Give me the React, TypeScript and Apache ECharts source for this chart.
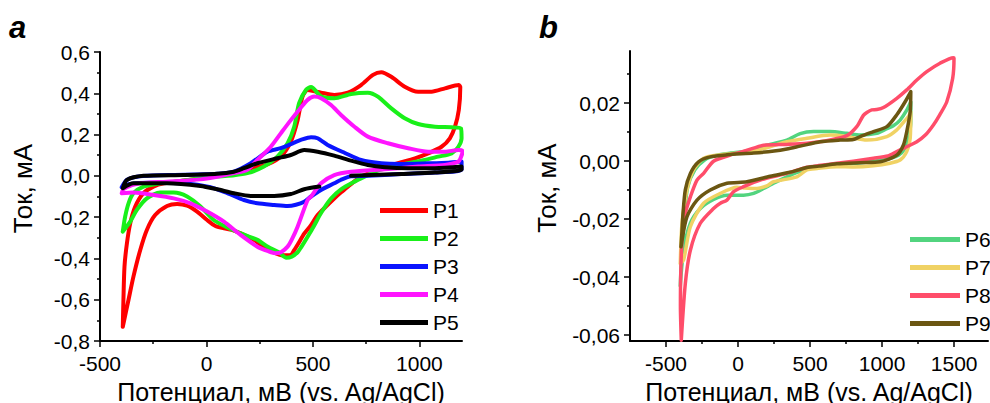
import React, { useEffect, useRef } from 'react';
import * as echarts from 'echarts';

// ---------- Panel a data (mV, mA) ----------
const namesA = ['P1', 'P2', 'P3', 'P4', 'P5'];
const colorsA = ['#ff0000', '#19f019', '#0a14ff', '#ff14ff', '#000000'];

const p1: number[][] = [
  [-393, -0.731], [-390, -0.6], [-385, -0.44], [-374, -0.33], [-358, -0.23], [-335, -0.15], [-296, -0.084],
  [-249, -0.052], [-200, -0.036], [-100, -0.022], [0, -0.008], [100, 0.008], [160, 0.022], [220, 0.04],
  [286, 0.055], [349, 0.093], [396, 0.166], [428, 0.27], [451, 0.384], [475, 0.416], [538, 0.403],
  [600, 0.392], [664, 0.403], [726, 0.44], [782, 0.489], [821, 0.502], [868, 0.48], [931, 0.432],
  [994, 0.408], [1057, 0.408], [1120, 0.424], [1185, 0.44], [1192, 0.43], [1185, 0.319], [1167, 0.238],
  [1143, 0.182], [1104, 0.141], [1041, 0.109], [979, 0.085], [915, 0.066], [852, 0.048], [805, 0.035],
  [760, 0.012], [726, -0.004], [690, -0.03], [664, -0.052], [632, -0.08], [600, -0.11], [560, -0.15],
  [522, -0.19], [490, -0.24], [459, -0.28], [430, -0.33], [412, -0.36], [396, -0.383], [360, -0.385],
  [318, -0.372], [270, -0.345], [223, -0.31], [176, -0.285], [129, -0.265], [82, -0.254], [42, -0.243],
  [3, -0.214], [-44, -0.173], [-91, -0.144], [-138, -0.136], [-185, -0.146], [-241, -0.19], [-280, -0.262],
  [-311, -0.359], [-343, -0.488], [-366, -0.6], [-393, -0.731],
];
const p2: number[][] = [
  [-393, -0.27], [-382, -0.198], [-366, -0.133], [-343, -0.084], [-296, -0.052], [-230, -0.038], [-150, -0.028],
  [-50, -0.015], [50, -0.003], [130, 0.003], [192, 0.013], [270, 0.045], [333, 0.093], [381, 0.158],
  [412, 0.238], [435, 0.352], [467, 0.416], [491, 0.43], [538, 0.385], [600, 0.376], [679, 0.397],
  [758, 0.403], [805, 0.384], [868, 0.327], [931, 0.279], [994, 0.251], [1073, 0.238], [1151, 0.235],
  [1195, 0.23], [1198, 0.182], [1183, 0.141], [1151, 0.109], [1088, 0.093], [1025, 0.077], [947, 0.061],
  [880, 0.045], [837, 0.035], [790, 0.02], [758, 0.004], [695, -0.028], [632, -0.065], [585, -0.11],
  [538, -0.18], [506, -0.24], [475, -0.295], [445, -0.345], [428, -0.37], [400, -0.392], [375, -0.397],
  [340, -0.37], [290, -0.345], [239, -0.31], [176, -0.285], [98, -0.25], [34, -0.214], [-28, -0.149],
  [-91, -0.1], [-154, -0.081], [-217, -0.081], [-280, -0.109], [-327, -0.165], [-358, -0.222], [-393, -0.27],
];
const p3: number[][] = [
  [-398, -0.055], [-374, -0.02], [-327, -0.004], [-248, 0.002], [-150, 0.004], [-50, 0.006], [50, 0.01],
  [129, 0.02], [208, 0.061], [286, 0.117], [349, 0.134], [412, 0.161], [443, 0.174], [491, 0.187],
  [522, 0.182], [569, 0.15], [648, 0.112], [726, 0.077], [821, 0.061], [915, 0.058], [1041, 0.061],
  [1135, 0.064], [1198, 0.069], [1198, 0.029], [1073, 0.016], [915, 0.009], [758, 0.0], [679, -0.002],
  [630, -0.02], [600, -0.036], [538, -0.068], [491, -0.1], [459, -0.125], [420, -0.14], [381, -0.146],
  [318, -0.141], [239, -0.133], [176, -0.117], [98, -0.084], [19, -0.055], [-107, -0.036], [-264, -0.033],
  [-358, -0.039], [-398, -0.055],
];
const p4: number[][] = [
  [-398, -0.084], [-390, -0.065], [-350, -0.045], [-311, -0.036], [-185, -0.028], [-28, -0.017], [50, -0.004],
  [129, 0.013], [192, 0.029], [239, 0.077], [302, 0.141], [349, 0.206], [396, 0.27], [443, 0.33],
  [475, 0.368], [506, 0.384], [538, 0.376], [585, 0.343], [632, 0.295], [695, 0.238], [758, 0.19],
  [852, 0.158], [947, 0.134], [1041, 0.117], [1120, 0.117], [1183, 0.125], [1203, 0.12], [1195, 0.09],
  [1183, 0.069], [1120, 0.053], [994, 0.045], [837, 0.032], [679, 0.02], [600, 0.004], [538, -0.036],
  [491, -0.1], [475, -0.117], [428, -0.246], [400, -0.31], [381, -0.343], [350, -0.37], [325, -0.375],
  [290, -0.365], [239, -0.343], [160, -0.286], [82, -0.222], [3, -0.173], [-75, -0.133], [-154, -0.109],
  [-248, -0.093], [-343, -0.081], [-398, -0.084],
];
const p5: number[][] = [
  [530, -0.052], [459, -0.065], [396, -0.088], [318, -0.097], [208, -0.097], [129, -0.084], [50, -0.065],
  [-28, -0.049], [-185, -0.036], [-343, -0.036], [-393, -0.06], [-374, -0.02], [-296, 0.0], [-107, 0.004],
  [50, 0.01], [129, 0.02], [176, 0.037], [239, 0.061], [333, 0.085], [396, 0.101], [459, 0.125],
  [522, 0.117], [600, 0.098], [679, 0.074], [758, 0.053], [837, 0.042], [947, 0.037], [1073, 0.037],
  [1198, 0.045], [1198, 0.029], [1073, 0.016], [915, 0.009], [679, 0.0],
];

// ---------- Panel b data (mV, mA) ----------
const namesB = ['P6', 'P7', 'P8', 'P9'];
const colorsB = ['#52d47f', '#f0d264', '#ff4d6a', '#6b5612'];

const p6: number[][] = [
  [-401, -0.043], [-392, -0.033], [-375, -0.02], [-350, -0.009], [-300, -0.003], [-230, 0.0005], [-150, 0.002],
  [-50, 0.0028], [100, 0.0038], [200, 0.0055], [339, 0.0073], [431, 0.0095], [524, 0.0102], [639, 0.0102],
  [755, 0.0096], [848, 0.009], [963, 0.0096], [1033, 0.0112], [1078, 0.0122], [1125, 0.0142], [1170, 0.0175],
  [1199, 0.0205], [1199, 0.0136], [1183, 0.0079], [1160, 0.0045], [1114, 0.0021], [1009, 0.0004],
  [848, -0.0005], [686, -0.0015], [500, -0.0025], [400, -0.004], [339, -0.0054], [250, -0.0075],
  [177, -0.0094], [108, -0.0111], [38, -0.0117], [-77, -0.0117], [-170, -0.0132], [-262, -0.0163],
  [-331, -0.0214], [-378, -0.0307], [-401, -0.043],
];
const p7: number[][] = [
  [-401, -0.0353], [-389, -0.0214], [-355, -0.0099], [-309, -0.003], [-239, 0.001], [-146, 0.0021],
  [0, 0.0028], [150, 0.004], [339, 0.0067], [478, 0.0079], [639, 0.009], [755, 0.0085], [894, 0.0073],
  [1033, 0.0085], [1102, 0.0108], [1150, 0.0135], [1183, 0.0154], [1199, 0.0171], [1195, 0.0079],
  [1171, 0.0033], [1125, 0.0004], [1055, -0.0007], [940, -0.0016], [800, -0.002], [686, -0.0019],
  [550, -0.0025], [478, -0.003], [408, -0.0054], [246, -0.0071], [200, -0.0085], [131, -0.0094],
  [40, -0.0092], [-8, -0.009], [-123, -0.0111], [-239, -0.0145], [-331, -0.0226], [-378, -0.0341],
  [-401, -0.0353],
];
const p8: number[][] = [
  [-394, -0.0617], [-400, -0.05], [-398, -0.039], [-389, -0.027], [-366, -0.018], [-331, -0.0123],
  [-285, -0.0065], [-239, -0.0042], [-170, 0.0], [-54, 0.0021], [30, 0.0033], [108, 0.0045], [177, 0.0055],
  [339, 0.0058], [478, 0.0062], [639, 0.0073], [755, 0.0088], [824, 0.0119], [870, 0.0158], [894, 0.0168],
  [928, 0.0177], [963, 0.0178], [1009, 0.0185], [1102, 0.0217], [1171, 0.0246], [1241, 0.028],
  [1310, 0.0309], [1402, 0.0338], [1495, 0.0357], [1499, 0.0355], [1490, 0.0286], [1449, 0.0205],
  [1400, 0.016], [1356, 0.0125], [1300, 0.009], [1241, 0.0067], [1150, 0.0045], [1102, 0.0033],
  [1040, 0.0018], [940, 0.001], [800, 0.0], [686, -0.0007], [560, -0.0015], [478, -0.0021], [339, -0.0042],
  [154, -0.0065], [38, -0.0088], [-31, -0.0105], [-77, -0.0134], [-123, -0.0145], [-170, -0.0163],
  [-262, -0.0214], [-331, -0.0307], [-366, -0.0422], [-394, -0.0617],
];
const p9: number[][] = [
  [-396, -0.0295], [-389, -0.024], [-382, -0.018], [-366, -0.0099], [-331, -0.0042], [-274, -0.0002],
  [-193, 0.0015], [-77, 0.0022], [108, 0.0028], [250, 0.0035], [339, 0.0042], [431, 0.0052], [570, 0.0067],
  [709, 0.0073], [800, 0.0075], [848, 0.0085], [940, 0.0102], [1033, 0.0119], [1102, 0.016], [1160, 0.0205],
  [1199, 0.024], [1195, 0.0171], [1171, 0.0102], [1148, 0.0056], [1102, 0.0021], [987, -0.0002],
  [848, -0.0005], [686, -0.0009], [560, -0.0017], [478, -0.0022], [385, -0.0035], [223, -0.0052],
  [62, -0.0071], [-77, -0.0076], [-193, -0.0099], [-285, -0.0134], [-355, -0.0192], [-396, -0.0295],
];

// ---------- Tick values ----------
const xTicksA = [-500, 0, 500, 1000];
const xMinorA = [-250, 250, 750];
const yTicksA = [-0.8, -0.6, -0.4, -0.2, 0, 0.2, 0.4, 0.6];
const yMinorA = [-0.7, -0.5, -0.3, -0.1, 0.1, 0.3, 0.5];
const xTicksB = [-500, 0, 500, 1000, 1500];
const xMinorB = [-250, 250, 750, 1250];
const yTicksB = [-0.06, -0.04, -0.02, 0, 0.02];
const yMinorB = [-0.05, -0.03, -0.01, 0.01, 0.03];

const xTitle = 'Потенциал, мВ (vs. Ag/AgCl)';
const yTitle = 'Ток, мА';

const FONT = '"Liberation Sans", Arial, sans-serif';
const AXIS_COLOR = '#000';

function mainX(gridIndex: number, min: number, max: number, ticks: number[]) {
  return {
    type: 'value', gridIndex, min, max, position: 'bottom',
    axisLine: { show: true, onZero: false, lineStyle: { color: AXIS_COLOR, width: 2 } },
    axisTick: { show: true, inside: false, length: 6, customValues: ticks, lineStyle: { color: AXIS_COLOR, width: 1.5 } },
    axisLabel: {
      show: true, customValues: ticks, color: '#000', fontSize: 21, fontFamily: FONT, margin: 12,
      formatter: (v: number) => String(v),
    },
    splitLine: { show: false },
    name: xTitle, nameLocation: 'middle', nameGap: 30,
    nameTextStyle: { color: '#000', fontSize: 25, fontFamily: FONT, lineHeight: 26 },
  };
}
function minorX(gridIndex: number, min: number, max: number, ticks: number[]) {
  return {
    type: 'value', gridIndex, min, max, position: 'bottom',
    axisLine: { show: false, onZero: false },
    axisTick: { show: true, inside: false, length: 3, customValues: ticks, lineStyle: { color: AXIS_COLOR, width: 1.5 } },
    axisLabel: { show: false, customValues: ticks },
    splitLine: { show: false },
  };
}
function mainY(gridIndex: number, min: number, max: number, ticks: number[], digits: number, gap: number) {
  return {
    type: 'value', gridIndex, min, max, position: 'left',
    axisLine: { show: true, onZero: false, lineStyle: { color: AXIS_COLOR, width: 2 } },
    axisTick: { show: true, inside: false, length: 6, customValues: ticks, lineStyle: { color: AXIS_COLOR, width: 1.5 } },
    axisLabel: {
      show: true, customValues: ticks, color: '#000', fontSize: 21, fontFamily: FONT, margin: 10,
      formatter: (v: number) => v.toFixed(digits).replace('.', ','),
    },
    splitLine: { show: false },
    name: yTitle, nameLocation: 'middle', nameGap: gap,
    nameTextStyle: { color: '#000', fontSize: 26, fontFamily: FONT, padding: [0, 0, 0, 16] },
  };
}
function minorY(gridIndex: number, min: number, max: number, ticks: number[]) {
  return {
    type: 'value', gridIndex, min, max, position: 'left',
    axisLine: { show: false, onZero: false },
    axisTick: { show: true, inside: false, length: 3, customValues: ticks, lineStyle: { color: AXIS_COLOR, width: 1.5 } },
    axisLabel: { show: false, customValues: ticks },
    splitLine: { show: false },
  };
}

function lineSeries(name: string, data: number[][], color: string, axis: number, width: number) {
  return {
    type: 'line', name, data, xAxisIndex: axis, yAxisIndex: axis,
    showSymbol: false, symbol: 'none', smooth: 0.25,
    lineStyle: { color, width, cap: 'round', join: 'round' },
    itemStyle: { color },
    emphasis: { disabled: true },
  };
}

export default function App() {
  const ref = useRef<HTMLDivElement>(null);
  useEffect(() => {
    if (!ref.current) return;
    const chart = echarts.init(ref.current, null, { renderer: 'svg' });
    const dataA = [p1, p2, p3, p4, p5];
    const dataB = [p6, p7, p8, p9];
    const option: any = {
      animation: false,
      backgroundColor: '#fff',
      grid: [
        { left: 100, top: 52, width: 362, height: 289, outerBoundsMode: 'none', containLabel: false },
        { left: 630, top: 51, width: 358, height: 290, outerBoundsMode: 'none', containLabel: false },
      ],
      xAxis: [
        mainX(0, -500, 1200, xTicksA),
        minorX(0, -500, 1200, xMinorA),
        mainX(1, -750, 1735, xTicksB),
        minorX(1, -750, 1735, xMinorB),
      ],
      yAxis: [
        mainY(0, -0.8, 0.6, yTicksA, 1, 64),
        minorY(0, -0.8, 0.6, yMinorA),
        mainY(1, -0.062, 0.038, yTicksB, 2, 70),
        minorY(1, -0.062, 0.038, yMinorB),
      ],
      legend: [
        {
          data: namesA, orient: 'vertical', left: 375, top: 195, icon: 'rect',
          itemWidth: 48, itemHeight: 5, itemGap: 7, selectedMode: false,
          textStyle: { color: '#000', fontSize: 21, fontFamily: FONT },
        },
        {
          data: namesB, orient: 'vertical', left: 905, top: 224, icon: 'rect',
          itemWidth: 50, itemHeight: 5, itemGap: 7, selectedMode: false,
          textStyle: { color: '#000', fontSize: 21, fontFamily: FONT },
        },
      ],
      graphic: [
        { type: 'text', left: 9, top: 12, style: { text: 'a', font: `italic bold 31px ${FONT}`, fill: '#000' } },
        { type: 'text', left: 539, top: 12, style: { text: 'b', font: `italic bold 31px ${FONT}`, fill: '#000' } },
      ],
      series: [
        ...namesA.map((n, i) => lineSeries(n, dataA[i], colorsA[i], 0, 4)),
        ...namesB.map((n, i) => lineSeries(n, dataB[i], colorsB[i], 2, 3.5)),
      ],
    };
    chart.setOption(option);
    return () => chart.dispose();
  }, []);
  return (
    <div
      ref={ref}
      style={{ position: 'fixed', left: 0, top: 0, width: 990, height: 403, background: '#fff' }}
    />
  );
}
